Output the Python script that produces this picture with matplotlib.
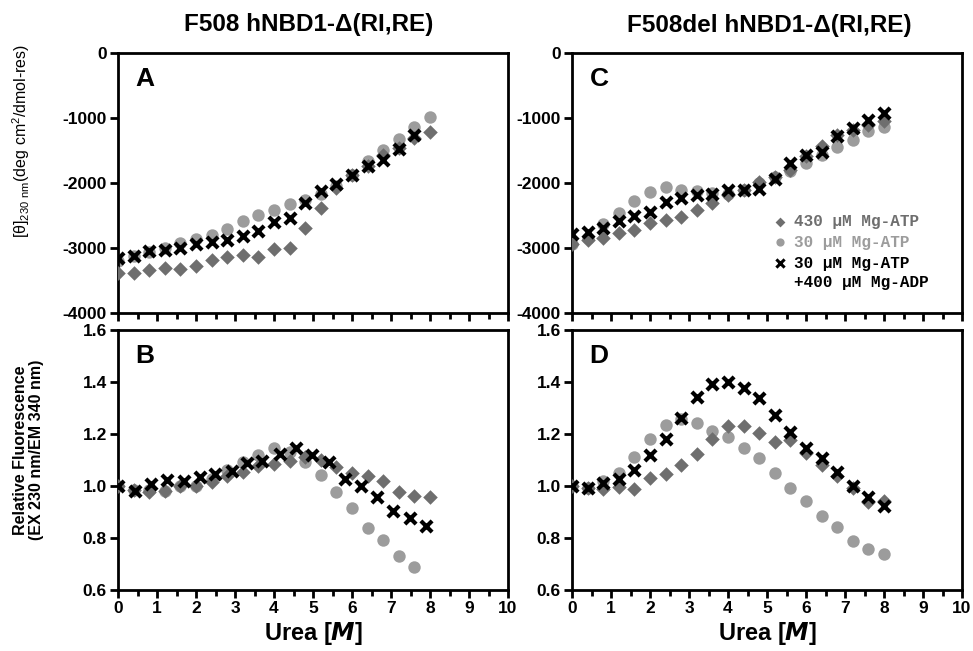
import matplotlib.pyplot as plt
from matplotlib.ticker import MultipleLocator

# urea concentrations (M)
urea = [0.0, 0.4, 0.8, 1.2, 1.6, 2.0, 2.4, 2.8, 3.2, 3.6, 4.0,
        4.4, 4.8, 5.2, 5.6, 6.0, 6.4, 6.8, 7.2, 7.6, 8.0]
urea_a_x = [0.0, 0.4, 0.8, 1.2, 1.6, 2.0, 2.4, 2.8, 3.2, 3.6,
            4.0, 4.4, 4.8, 5.2, 5.6, 6.0, 6.4, 6.8, 7.2, 7.6]
urea_b_x = [0.0, 0.43, 0.84, 1.26, 1.68, 2.09, 2.48, 2.91, 3.31, 3.7,
            4.16, 4.57, 4.97, 5.4, 5.81, 6.24, 6.64, 7.05, 7.48, 7.91]
urea_b_o = urea[:20]

# panel A: F508, CD signal
a_atp430 = [-3385, -3385, -3333, -3308, -3323, -3272, -3190, -3138, -3103, -3144, -3015,
            -3000, -2692, -2385, -2077, -1872, -1733, -1564, -1462, -1308, -1220]
a_atp30 = [-3205, -3118, -3067, -3000, -2923, -2862, -2795, -2708, -2590, -2487, -2421,
           -2318, -2256, -2164, -2051, -1872, -1667, -1487, -1323, -1144, -990]
a_adp = [-3154, -3128, -3051, -3036, -3000, -2933, -2908, -2872, -2810, -2744,
         -2605, -2538, -2308, -2128, -2010, -1872, -1744, -1651, -1477, -1256]

# panel C: F508del, CD signal
c_atp430 = [-2933, -2872, -2846, -2769, -2728, -2615, -2574, -2523, -2410, -2308, -2179,
            -2113, -1990, -1908, -1795, -1590, -1426, -1256, -1190, -1103, -1051]
c_atp30 = [-2933, -2846, -2631, -2462, -2272, -2144, -2067, -2113, -2128, -2154, -2164,
           -2113, -1997, -1908, -1821, -1692, -1564, -1446, -1333, -1205, -1138]
c_adp = [-2785, -2759, -2692, -2590, -2513, -2451, -2297, -2231, -2179, -2164, -2103,
         -2103, -2092, -1938, -1692, -1564, -1528, -1272, -1154, -1026, -923]

# panel B: F508, fluorescence
b_atp430 = [1.0, 0.985, 0.975, 0.98, 1.0, 1.0, 1.015, 1.04, 1.055, 1.077, 1.085,
            1.096, 1.11, 1.1, 1.074, 1.051, 1.038, 1.019, 0.978, 0.962, 0.959]
b_atp30 = [1.0, 0.985, 0.985, 0.982, 1.0, 1.0, 1.025, 1.06, 1.094, 1.119,
           1.145, 1.132, 1.094, 1.042, 0.976, 0.914, 0.837, 0.792, 0.731, 0.69]
b_adp = [1.0, 0.982, 1.006, 1.023, 1.019, 1.036, 1.046, 1.059, 1.09, 1.096,
         1.123, 1.145, 1.119, 1.094, 1.026, 1.001, 0.959, 0.904, 0.878, 0.847]

# panel D: F508del, fluorescence
d_atp430 = [1.0, 0.991, 0.987, 0.995, 0.987, 1.032, 1.045, 1.081, 1.122, 1.181, 1.231,
            1.231, 1.203, 1.171, 1.177, 1.128, 1.081, 1.038, 0.991, 0.94, 0.942]
d_atp30 = [1.0, 0.994, 1.02, 1.051, 1.113, 1.181, 1.235, 1.256, 1.244, 1.213, 1.19,
           1.145, 1.106, 1.051, 0.991, 0.942, 0.886, 0.844, 0.79, 0.758, 0.738]
d_adp = [1.0, 0.994, 1.01, 1.027, 1.062, 1.119, 1.181, 1.263, 1.341, 1.391, 1.401,
         1.376, 1.337, 1.273, 1.209, 1.145, 1.106, 1.055, 1.0, 0.959, 0.924]

legend_labels = ['430 \u00b5M Mg-ATP', '30 \u00b5M Mg-ATP', '30 \u00b5M Mg-ATP', '+400 \u00b5M Mg-ADP']

dia_col = "#6e6e6e"
circ_col = "#9c9c9c"

plt.rcParams['font.family'] = ['Liberation Sans', 'DejaVu Sans']
plt.rcParams['font.weight'] = 'bold'
plt.rcParams['axes.unicode_minus'] = False

fig = plt.figure(figsize=(9.73, 6.51), dpi=100)
axA = fig.add_axes([0.1213, 0.5192, 0.4008, 0.3994])
axC = fig.add_axes([0.5879, 0.5192, 0.4008, 0.3994])
axB = fig.add_axes([0.1213, 0.0937, 0.4008, 0.3994])
axD = fig.add_axes([0.5879, 0.0937, 0.4008, 0.3994])


def draw(ax, x1, y1, x2, y2, x3, y3):
    ax.scatter(x1, y1, marker='D', s=55, color=dia_col, linewidths=0, zorder=3)
    ax.scatter(x2, y2, marker='o', s=80, color=circ_col, linewidths=0, zorder=2)
    ax.scatter(x3, y3, marker='x', s=65, color='black', linewidths=3, zorder=4)


draw(axA, urea, a_atp430, urea, a_atp30, urea_a_x, a_adp)
draw(axC, urea, c_atp430, urea, c_atp30, urea, c_adp)
draw(axB, urea, b_atp430, urea_b_o, b_atp30, urea_b_x, b_adp)
draw(axD, urea, d_atp430, urea, d_atp30, urea, d_adp)

for ax, lab in [(axA, 'A'), (axB, 'B'), (axC, 'C'), (axD, 'D')]:
    ax.set_xlim(0, 10)
    ax.xaxis.set_major_locator(MultipleLocator(1))
    ax.xaxis.set_minor_locator(MultipleLocator(0.5))
    for s in ax.spines.values():
        s.set_linewidth(2)
    ax.tick_params(which='major', length=6, width=2, labelsize=12.5, pad=2)
    ax.tick_params(which='minor', length=4, width=2)
    ax.text(0.045, 0.9, lab, transform=ax.transAxes, fontsize=19,
            fontweight='bold', va='center', ha='left')

for ax in (axA, axC):
    ax.set_ylim(-4000, 0)
    ax.yaxis.set_major_locator(MultipleLocator(1000))
    ax.tick_params(axis='x', labelbottom=False)

for ax in (axB, axD):
    ax.set_ylim(0.6, 1.6)
    ax.yaxis.set_major_locator(MultipleLocator(0.2))
    ax.yaxis.set_major_formatter(plt.FormatStrFormatter('%.1f'))
    ax.set_xlabel('Urea [$\\boldsymbol{M}$]', fontsize=17, fontweight='bold', labelpad=3)

# legend in panel C
mono = 'Liberation Mono'
leg_y = [-2600, -2908, -3231, -3538]
leg_col = [dia_col, circ_col, 'black', 'black']
axC.scatter([5.33], [leg_y[0]], marker='D', s=25, color=dia_col, linewidths=0)
axC.scatter([5.33], [leg_y[1]], marker='o', s=35, color=circ_col, linewidths=0)
axC.scatter([5.33], [leg_y[2]], marker='x', s=35, color='black', linewidths=2.2)
for lbl, yy, cc in zip(legend_labels, leg_y, leg_col):
    axC.text(5.68, yy, lbl, color=cc, fontsize=11.5, family=mono,
             fontweight='bold', va='center')

fig.text(0.317, 0.963, 'F508 hNBD1-\u0394(RI,RE)', ha='center', va='center',
         fontsize=17.5, fontweight='bold')
fig.text(0.791, 0.961, 'F508del hNBD1-\u0394(RI,RE)', ha='center', va='center',
         fontsize=17.5, fontweight='bold')

fig.text(0.022, 0.783, '[\u03b8]$_{\\mathregular{230\\ nm}}$(deg cm$^{\\mathregular{2}}$/dmol-res)',
         rotation=90, ha='center', va='center', fontsize=11.5, fontweight='normal')
fig.text(0.029, 0.309, 'Relative Fluorescence\n(EX 230 nm/EM 340 nm)',
         rotation=90, ha='center', va='center', fontsize=11.5, fontweight='bold',
         linespacing=1.1)

fig.savefig('out.png', dpi=100)
